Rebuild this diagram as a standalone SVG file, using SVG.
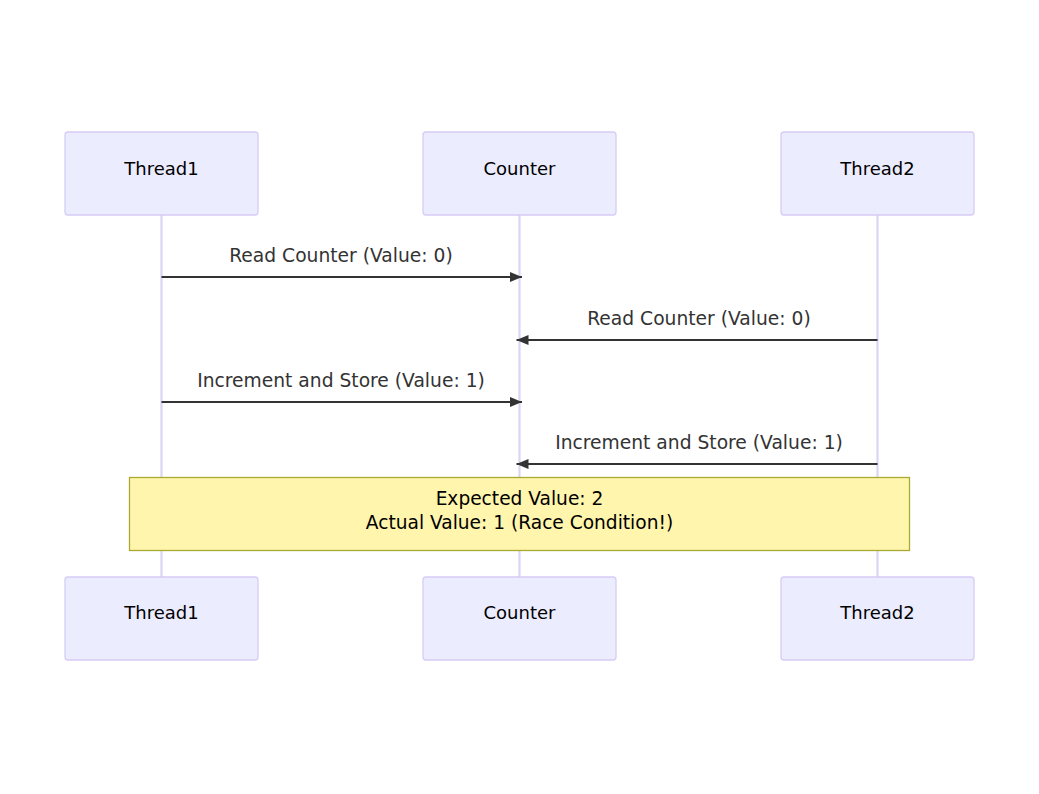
<svg xmlns="http://www.w3.org/2000/svg" width="1039" height="794" viewBox="0 0 1039 794">
<defs>
<style>
.actor rect{fill:#ececff;stroke:#d6ccf4;stroke-width:1.3}
.actor text{font-family:"DejaVu Sans",Verdana,sans-serif;font-size:18px;fill:#000;text-anchor:middle;dominant-baseline:central}
.life{stroke:#ddd3f5;stroke-width:2.2}
.msg{stroke:#333;stroke-width:2;fill:none}
.lbl{font-family:"DejaVu Sans",Verdana,sans-serif;font-size:18.7px;fill:#333;text-anchor:middle;dominant-baseline:central}
.note rect{fill:#fff5ad;stroke:#aaaa33;stroke-width:1.3}
.note text{font-family:"DejaVu Sans",Verdana,sans-serif;font-size:18.6px;fill:#000;text-anchor:middle;dominant-baseline:central}
</style>
<marker id="ah" viewBox="0 0 12 10" refX="12" refY="5" markerWidth="12" markerHeight="10" markerUnits="userSpaceOnUse" orient="auto">
<path d="M0,0 L12,5 L0,10 z" fill="#333"/>
</marker>
</defs>
<rect width="1039" height="794" fill="#fff"/>
<g id="lifelines">
<line class="life" x1="161.5" y1="215" x2="161.5" y2="577"/>
<line class="life" x1="519.5" y1="215" x2="519.5" y2="577"/>
<line class="life" x1="877.5" y1="215" x2="877.5" y2="577"/>
</g>
<g id="thread1-top" class="actor"><rect x="65" y="132" width="193" height="83" rx="3"/><text x="161.5" y="168">Thread1</text></g>
<g id="counter-top" class="actor"><rect x="423" y="132" width="193" height="83" rx="3"/><text x="519.5" y="168">Counter</text></g>
<g id="thread2-top" class="actor"><rect x="781" y="132" width="193" height="83" rx="3"/><text x="877.5" y="168">Thread2</text></g>
<g id="connectors">
<line class="msg" x1="161.5" y1="277" x2="522" y2="277" marker-end="url(#ah)"/>
<text class="lbl" x="341" y="255">Read Counter (Value: 0)</text>
<line class="msg" x1="877.5" y1="340" x2="516.5" y2="340" marker-end="url(#ah)"/>
<text class="lbl" x="699" y="318">Read Counter (Value: 0)</text>
<line class="msg" x1="161.5" y1="402" x2="522" y2="402" marker-end="url(#ah)"/>
<text class="lbl" x="341" y="380">Increment and Store (Value: 1)</text>
<line class="msg" x1="877.5" y1="464" x2="516.5" y2="464" marker-end="url(#ah)"/>
<text class="lbl" x="699" y="442">Increment and Store (Value: 1)</text>
</g>
<g id="note" class="note"><rect x="129.5" y="477.5" width="780" height="73"/><text x="519.5" y="498">Expected Value: 2</text><text x="519.5" y="522">Actual Value: 1 (Race Condition!)</text></g>
<g id="thread1-bottom" class="actor"><rect x="65" y="577" width="193" height="83" rx="3"/><text x="161.5" y="612">Thread1</text></g>
<g id="counter-bottom" class="actor"><rect x="423" y="577" width="193" height="83" rx="3"/><text x="519.5" y="612">Counter</text></g>
<g id="thread2-bottom" class="actor"><rect x="781" y="577" width="193" height="83" rx="3"/><text x="877.5" y="612">Thread2</text></g>
</svg>
